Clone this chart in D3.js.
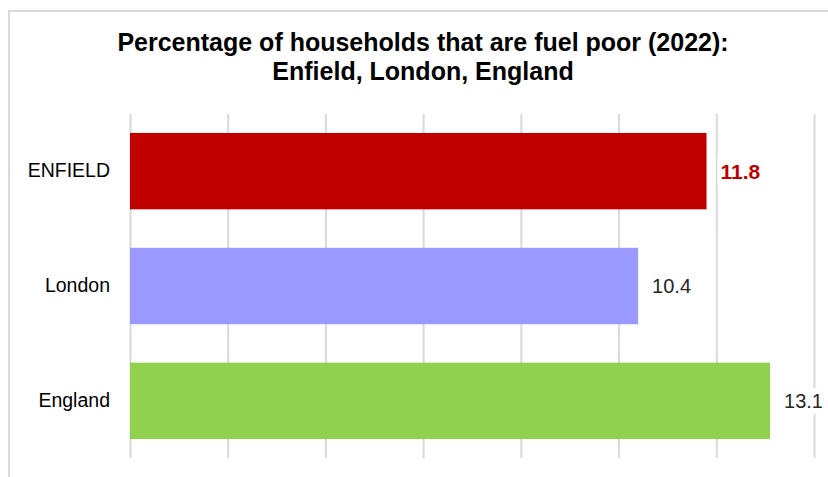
<!DOCTYPE html>
<html>
<head>
<meta charset="utf-8">
<script src="https://cdn.jsdelivr.net/npm/d3@7"></script>
<style>
  html, body { margin: 0; padding: 0; background: #fff; }
  svg { display: block; font-family: "Liberation Sans", Arial, sans-serif; }
</style>
</head>
<body>
<svg id="chart" width="828" height="477"></svg>
<script>
// Fuel poverty share, 2022
const categories = ["ENFIELD", "London", "England"];
const values = [11.8, 10.4, 13.1];
const colors = ["#c00000", "#9999ff", "#92d050"];
const gridTicks = [0, 2, 4, 6, 8, 10, 12, 14];
const titleLines = ["Percentage of households that are fuel poor (2022):", "Enfield, London, England"];

const svg = d3.select("#chart");
const W = 828, H = 477;

// outer chart frame (only top and left edges fall inside the view)
svg.append("path")
  .attr("d", `M9,${H} V11 H${W}`)
  .attr("fill", "none")
  .attr("stroke", "#d9d9d9")
  .attr("stroke-width", 2);

const plot = { left: 130, right: 814, top: 114, bottom: 458 };

const x = d3.scaleLinear().domain([0, 14]).range([plot.left, plot.right]);
const y = d3.scaleBand().domain(categories).range([plot.top, plot.bottom])
  .paddingInner(0.335).paddingOuter(0.165);

// vertical gridlines
const xAxis = d3.axisBottom(x).tickValues(gridTicks).tickSize(plot.bottom - plot.top).tickFormat("");
const gx = svg.append("g").attr("transform", `translate(0,${plot.top})`).call(xAxis);
gx.select(".domain").remove();
gx.selectAll(".tick line").attr("stroke", "#d9d9d9").attr("stroke-width", 2);

// bars
svg.append("g").selectAll("rect")
  .data(categories)
  .join("rect")
  .attr("x", x(0))
  .attr("y", d => y(d))
  .attr("width", (d, i) => x(values[i]) - x(0))
  .attr("height", y.bandwidth())
  .attr("fill", (d, i) => colors[i]);

// category labels
const yAxis = d3.axisLeft(y).tickSize(0).tickPadding(20);
const gy = svg.append("g").attr("transform", `translate(${plot.left},0)`).call(yAxis);
gy.select(".domain").remove();
gy.selectAll("text")
  .attr("font-family", "'Liberation Sans', Arial, sans-serif")
  .attr("font-size", 19.5)
  .attr("fill", "#000");

// value labels with white backing
const lab = svg.append("g").selectAll("g")
  .data(categories)
  .join("g")
  .attr("transform", (d, i) => `translate(${x(values[i]) + 14},${y(d) + y.bandwidth() / 2})`);

lab.append("rect").attr("class", "bg").attr("fill", "#fff");
lab.append("text")
  .attr("dy", "0.36em")
  .attr("font-size", (d, i) => i === 0 ? 21 : 20)
  .attr("font-weight", (d, i) => i === 0 ? "bold" : "normal")
  .attr("fill", (d, i) => i === 0 ? "#c00000" : "#262626")
  .text((d, i) => d3.format(".1f")(values[i]));
lab.each(function () {
  const g = d3.select(this);
  const bb = g.select("text").node().getBBox();
  g.select("rect.bg").attr("x", bb.x - 3).attr("y", bb.y - 2)
    .attr("width", bb.width + 6).attr("height", bb.height + 4);
});

// title
const title = svg.append("text")
  .attr("text-anchor", "middle")
  .attr("font-weight", "bold")
  .attr("font-size", 25)
  .attr("fill", "#000");
title.selectAll("tspan")
  .data(titleLines)
  .join("tspan")
  .attr("x", 423)
  .attr("y", (d, i) => 51 + i * 28.5)
  .text(d => d);
</script>
</body>
</html>
